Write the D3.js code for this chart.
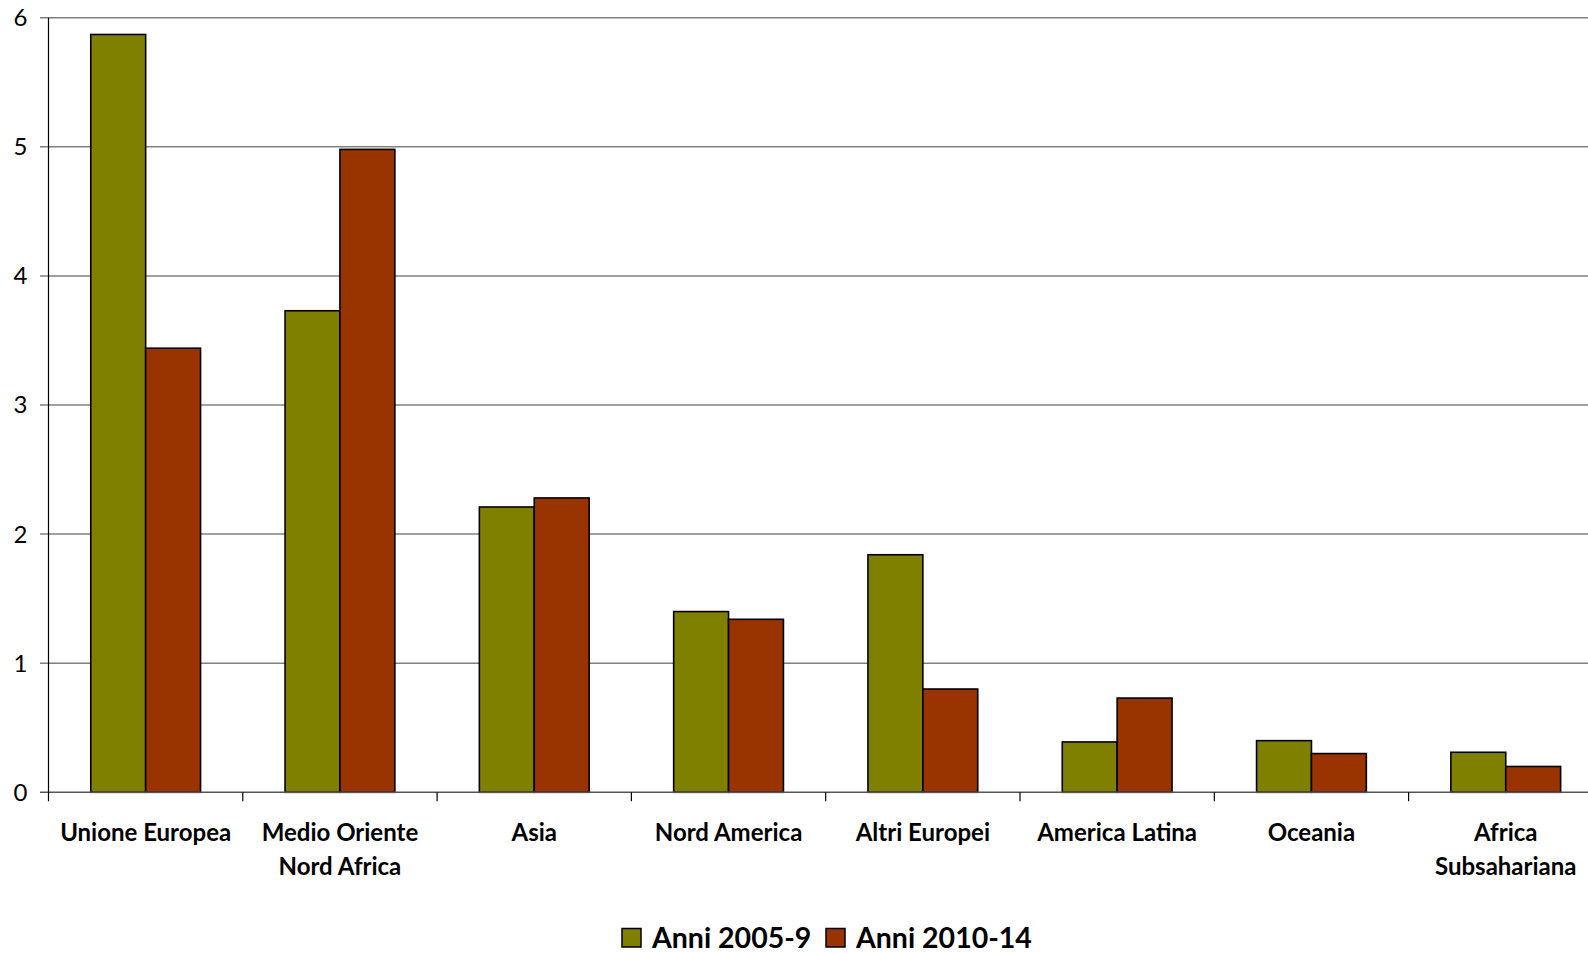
<!DOCTYPE html>
<html><head><meta charset="utf-8">
<script src="https://cdn.jsdelivr.net/npm/d3@7/dist/d3.min.js"></script>
<style>body{margin:0;background:#fff;overflow:hidden}svg{display:block}</style>
</head><body>
<script>
const categories = [["Unione Europea"],["Medio Oriente","Nord Africa"],["Asia"],["Nord America"],["Altri Europei"],["America Latina"],["Oceania"],["Africa","Subsahariana"]];
const series1Name = "Anni 2005-9";
const series2Name = "Anni 2010-14";
const series1 = [5.87, 3.73, 2.21, 1.40, 1.84, 0.39, 0.40, 0.31];
const series2 = [3.44, 4.98, 2.28, 1.34, 0.80, 0.73, 0.30, 0.20];
const yTicks = [0,1,2,3,4,5,6];
const colors = ["#808000", "#993300"];

const W = 1588, H = 953;
const x0 = 48.5, y0 = 792.3, yTop = 17.7, band = 194.3;
const svg = d3.select("body").append("svg").attr("width", W).attr("height", H);
const font = "Lato, 'Open Sans', sans-serif";

const x = d3.scaleBand().domain(d3.range(categories.length)).range([x0, x0 + band*categories.length]).paddingInner(0).paddingOuter(0);
const y = d3.scaleLinear().domain([0,6]).range([y0, yTop]);
const inner = d3.scaleBand().domain([0,1]).range([0, band]).paddingInner(0).paddingOuter(0.77);

// gridlines
svg.append("g").selectAll("line").data(yTicks.filter(d=>d>0)).join("line")
  .attr("x1", 40).attr("x2", W).attr("y1", d=>y(d)).attr("y2", d=>y(d))
  .attr("stroke", "#808080").attr("stroke-width", 1.5);

// y-axis labels
svg.append("g").selectAll("text").data(yTicks).join("text")
  .attr("x", 27.5).attr("y", d=>y(d)).attr("dy", "0.35em").attr("text-anchor","end")
  .attr("font-family", font).attr("font-size", 24).attr("fill","#000").text(d=>d);

// bars
const data = categories.map((c,i)=>[series1[i], series2[i]]);
const g = svg.append("g");
data.forEach((vals,i)=>{
  vals.forEach((v,s)=>{
    g.append("rect").attr("x", x(i)+inner(s)).attr("y", y(v))
      .attr("width", inner.bandwidth()).attr("height", y0 - y(v))
      .attr("fill", colors[s]).attr("stroke","#000").attr("stroke-width",1.6);
  });
});

// axes
svg.append("line").attr("x1", 40).attr("x2", W).attr("y1", y0).attr("y2", y0).attr("stroke","#555").attr("stroke-width",1.5);
svg.append("line").attr("x1", x0).attr("x2", x0).attr("y1", yTop).attr("y2", y0+9).attr("stroke","#000").attr("stroke-width",1.2);
svg.append("g").selectAll("line").data(d3.range(1,categories.length)).join("line")
  .attr("x1", d=>x(d)).attr("x2", d=>x(d)).attr("y1", y0).attr("y2", y0+9)
  .attr("stroke","#000").attr("stroke-width",1.2);

// category labels
const lab = svg.append("g").selectAll("text").data(categories).join("text")
  .attr("text-anchor","middle").attr("font-family", font).attr("font-weight","bold")
  .attr("font-size", 24).attr("fill","#000");
lab.each(function(c,i){
  const t = d3.select(this);
  c.forEach((line,k)=>{
    t.append("tspan").attr("x", x(i)+band/2).attr("y", 841 + k*34).text(line);
  });
});

// legend
const leg = svg.append("g");
const legItems = [{name: series1Name, c: colors[0], x: 622},{name: series2Name, c: colors[1], x: 826}];
legItems.forEach(it=>{
  leg.append("rect").attr("x", it.x).attr("y", 928.5).attr("width",19).attr("height",18.5)
    .attr("fill", it.c).attr("stroke","#000").attr("stroke-width",1.5);
  leg.append("text").attr("x", it.x+30).attr("y", 947.5).attr("font-family", font)
    .attr("font-weight","bold").attr("font-size", 28.5).attr("fill","#000").text(it.name);
});
</script>
</body></html>
